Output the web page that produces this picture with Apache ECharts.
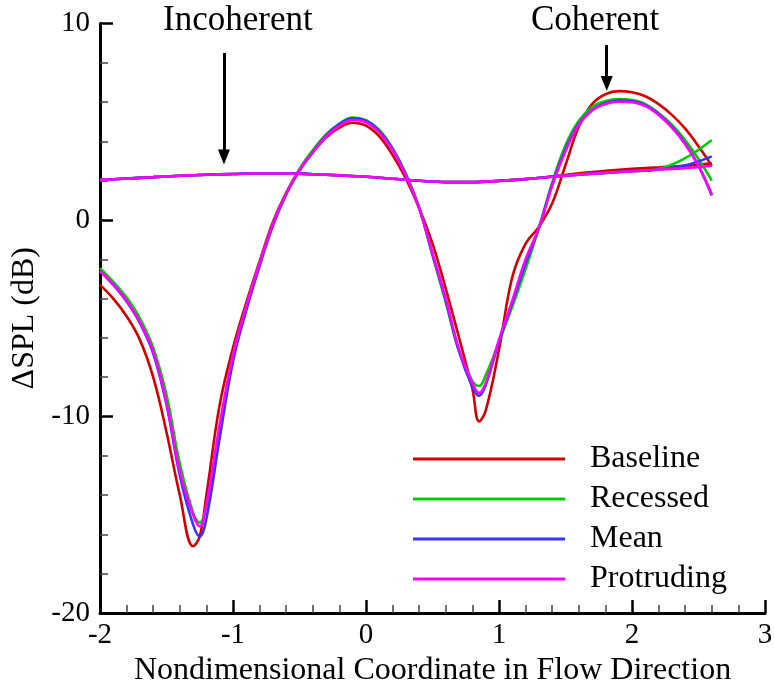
<!DOCTYPE html>
<html>
<head>
<meta charset="utf-8">
<script src="https://cdn.jsdelivr.net/npm/echarts@6/dist/echarts.min.js"></script>
<style>html,body{margin:0;padding:0;background:#fff}#chart{width:774px;height:684px}</style>
</head>
<body>
<div id="chart"></div>
<script>
// coherent curves share this x grid (extra points near the minima)
var xs = [-2.0,-1.9,-1.8,-1.7,-1.6,-1.5,-1.4,-1.3,-1.25,-1.2,-1.1,-1.0,-0.9,-0.8,-0.7,-0.6,-0.5,-0.4,-0.3,-0.2,-0.1,
          0.0,0.1,0.2,0.3,0.4,0.5,0.6,0.7,0.8,0.85,0.9,1.0,1.1,1.2,1.3,1.4,1.5,1.6,1.7,1.8,1.9,2.0,2.1,2.2,2.3,2.4,2.5,2.6];

var baselineCoh   = [-3.3,-4.0,-4.9,-6.1,-8.0,-10.8,-14.0,-16.6,-16.1,-14.0,-9.4,-6.5,-4.2,-2.1,-0.1,1.4,2.55,3.45,4.2,4.7,4.95,
                     4.8,4.25,3.3,2.1,0.6,-1.2,-3.5,-6.0,-8.6,-10.25,-9.7,-6.6,-2.9,-1.2,-0.35,0.85,2.8,4.75,5.9,6.4,6.56,6.5,6.3,5.9,5.35,4.65,3.75,2.75];
var recessedCoh   = [-2.45,-3.15,-3.95,-5.0,-6.5,-8.9,-12.4,-14.9,-15.4,-14.6,-10.6,-6.9,-4.4,-2.2,-0.2,1.35,2.6,3.55,4.35,4.9,5.22,
                     5.08,4.58,3.65,2.35,0.6,-1.8,-4.2,-6.7,-8.2,-8.45,-7.9,-6.2,-4.4,-2.5,-0.4,1.9,3.8,5.05,5.75,6.05,6.15,6.1,5.9,5.45,4.85,4.05,3.1,2.0];
var meanCoh       = [-2.6,-3.3,-4.15,-5.25,-6.8,-9.4,-13.0,-15.5,-16.1,-15.2,-11.1,-7.2,-4.6,-2.35,-0.3,1.3,2.5,3.45,4.3,4.88,5.18,
                     5.05,4.52,3.6,2.3,0.6,-1.75,-4.1,-6.7,-8.5,-8.95,-8.4,-6.2,-4.2,-2.2,-0.4,1.8,3.6,4.9,5.6,5.95,6.08,6.05,5.85,5.4,4.75,3.9,2.75,1.25];
var protrudingCoh = [-2.6,-3.3,-4.1,-5.2,-6.7,-9.3,-12.8,-15.0,-15.6,-14.5,-10.4,-6.9,-4.4,-2.2,-0.2,1.35,2.55,3.45,4.25,4.8,5.09,
                     4.97,4.45,3.55,2.25,0.6,-1.7,-4.0,-6.6,-8.3,-8.8,-8.3,-6.1,-4.1,-2.0,-0.4,1.75,3.5,4.85,5.58,5.9,6.02,6.0,5.8,5.35,4.7,3.85,2.75,1.3];

// incoherent curves
var xi = [-2.0,-1.8,-1.6,-1.4,-1.2,-1.0,-0.8,-0.6,-0.4,-0.2,0.0,0.2,0.4,0.6,0.8,1.0,1.2,1.4,1.6,1.8,2.0,2.2,2.4,2.6];
var baselineInc   = [2.03,2.11,2.18,2.25,2.3,2.34,2.37,2.37,2.33,2.27,2.2,2.1,2.0,1.93,1.93,1.99,2.08,2.22,2.38,2.5,2.6,2.68,2.76,2.88];
var recessedInc   = [2.03,2.11,2.18,2.25,2.3,2.34,2.37,2.37,2.33,2.27,2.2,2.1,2.0,1.93,1.93,1.99,2.08,2.2,2.31,2.4,2.48,2.6,3.15,4.07];
var meanInc       = [2.03,2.11,2.18,2.25,2.3,2.34,2.37,2.37,2.33,2.27,2.2,2.1,2.0,1.93,1.93,1.99,2.08,2.2,2.31,2.4,2.48,2.57,2.78,3.24];
var protrudingInc = [2.03,2.11,2.18,2.25,2.3,2.34,2.37,2.37,2.33,2.27,2.2,2.1,2.0,1.93,1.93,1.99,2.08,2.2,2.31,2.4,2.48,2.56,2.64,2.76];

var names  = ['Baseline', 'Recessed', 'Mean', 'Protruding'];
var colors = ['#d40000', '#00cc00', '#3535ff', '#ff00ff'];
var cohSets = [baselineCoh, recessedCoh, meanCoh, protrudingCoh];
var incSets = [baselineInc, recessedInc, meanInc, protrudingInc];

var font = '"Liberation Serif", "Times New Roman", serif';

function pairs(xv, yv) {
    return xv.map(function (x, i) { return [x, yv[i]]; });
}

var series = [];
names.forEach(function (n, k) {
    series.push({ name: n, type: 'line', data: pairs(xs, cohSets[k]), smooth: 0.4,
        showSymbol: false, lineStyle: { width: 2.6, color: colors[k] }, itemStyle: { color: colors[k] }, z: 2 + k });
});
names.forEach(function (n, k) {
    series.push({ name: n, type: 'line', data: pairs(xi, incSets[k]), smooth: 0.4,
        showSymbol: false, lineStyle: { width: 2.6, color: colors[k] }, itemStyle: { color: colors[k] }, z: 2 + k });
});

// arrows for the two annotations
series.push({
    type: 'line', data: [], silent: true, z: 10,
    markLine: {
        silent: true, symbol: ['none', 'triangle'], symbolSize: [12, 15],
        label: { show: false },
        lineStyle: { color: '#000', width: 3, type: 'solid' },
        data: [
            [{ coord: [-1.068, 8.5] }, { coord: [-1.068, 3.2] }],
            [{ coord: [1.81, 8.9] }, { coord: [1.81, 6.95] }]
        ]
    }
});

var myChart = echarts.init(document.getElementById('chart'));
var option = {
    backgroundColor: '#fff',
    animation: false,
    textStyle: { fontFamily: font },
    grid: { left: 100, right: 9, top: 23.5, bottom: 71, containLabel: false, outerBoundsMode: 'none' },
    legend: {
        data: names, orient: 'vertical', left: 413, top: 443, padding: 0,
        icon: 'rect', itemWidth: 152, itemHeight: 3, itemGap: 8,
        textStyle: { fontFamily: font, fontSize: 32, color: '#000', lineHeight: 28, padding: [0, 0, 0, 20] }
    },
    graphic: [
        { type: 'text', left: 163, top: 3, style: { text: 'Incoherent', font: '35px ' + font, fill: '#000' } },
        { type: 'text', left: 531, top: 3, style: { text: 'Coherent', font: '35px ' + font, fill: '#000' } }
    ],
    xAxis: {
        type: 'value', min: -2, max: 3, interval: 1,
        name: 'Nondimensional Coordinate in Flow Direction', nameLocation: 'middle', nameGap: 36,
        nameTextStyle: { fontFamily: font, fontSize: 32, color: '#000' },
        axisLine: { onZero: false, lineStyle: { color: '#000', width: 3 } },
        axisTick: { inside: true, length: 13, lineStyle: { color: '#000', width: 2.5 } },
        minorTick: { show: true, splitNumber: 5, length: 8, lineStyle: { color: '#444', width: 1.5 } },
        axisLabel: { margin: 8, fontFamily: font, fontSize: 29, color: '#000' },
        splitLine: { show: false }
    },
    yAxis: {
        type: 'value', min: -20, max: 10, interval: 10,
        name: 'ΔSPL (dB)', nameLocation: 'middle', nameGap: 54,
        nameTextStyle: { fontFamily: font, fontSize: 32, color: '#000' },
        axisLine: { onZero: false, lineStyle: { color: '#000', width: 3 } },
        axisTick: { inside: true, length: 13, lineStyle: { color: '#000', width: 2.5 } },
        minorTick: { show: true, splitNumber: 5, length: 8, lineStyle: { color: '#444', width: 1.5 } },
        axisLabel: { margin: 10, fontFamily: font, fontSize: 29, color: '#000' },
        splitLine: { show: false }
    },
    series: series
};
myChart.setOption(option);
</script>
</body>
</html>
